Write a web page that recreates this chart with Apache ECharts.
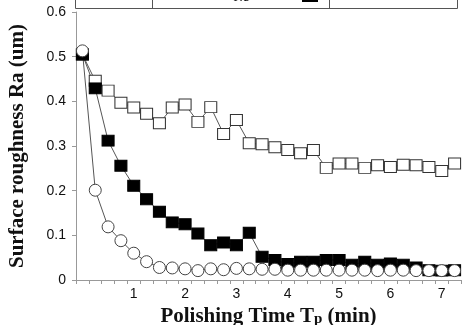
<!DOCTYPE html>
<html><head><meta charset="utf-8">
<script src="https://cdn.jsdelivr.net/npm/echarts@6/dist/echarts.min.js"></script>
<style>html,body{margin:0;padding:0;background:#fff}#c{width:463px;height:325px}</style>
</head><body><div id="c"></div>
<script>
var times = ['0','0.25','0.5','0.75','1','1.25','1.5','1.75','2','2.25','2.5','2.75','3','3.25','3.5','3.75','4','4.25','4.5','4.75','5','5.25','5.5','5.75','6','6.25','6.5','6.75','7','7.25'];
var openSquares = [0.505,0.446,0.424,0.397,0.386,0.372,0.351,0.386,0.393,0.354,0.387,0.327,0.358,0.306,0.304,0.297,0.291,0.284,0.291,0.251,0.261,0.261,0.251,0.257,0.253,0.258,0.257,0.253,0.244,0.261];
var filledSquares = [0.505,0.429,0.312,0.256,0.211,0.181,0.153,0.129,0.125,0.104,0.078,0.084,0.078,0.106,0.052,0.045,0.036,0.041,0.041,0.045,0.045,0.034,0.041,0.034,0.037,0.034,0.028,0.022,0.021,0.022];
var openCircles = [0.513,0.201,0.119,0.088,0.060,0.041,0.028,0.027,0.025,0.021,0.025,0.023,0.026,0.025,0.024,0.024,0.022,0.022,0.022,0.022,0.022,0.022,0.022,0.021,0.022,0.022,0.021,0.021,0.021,0.021];
var yTicks = ['0','0.1','0.2','0.3','0.4','0.5','0.6'];

var chart = echarts.init(document.getElementById('c'));
var lineStyle = {color:'#555', width:1};
chart.setOption({
  animation:false,
  grid:{left:76, right:2, top:12, bottom:45, containLabel:false, outerBoundsMode:'none'},
  xAxis:{
    type:'category', data:times, boundaryGap:true,
    axisLine:{lineStyle:{color:'#999', width:1}},
    axisTick:{show:true, interval:0, length:4, inside:false, lineStyle:{color:'#999'}},
    axisLabel:{interval:function(i){return i>0 && i%4===0;}, color:'#111', fontFamily:'Liberation Sans', fontSize:14, margin:7},
    name:'{a|Polishing Time T}{b|p}{a| (min)}', nameLocation:'middle', nameGap:22,
    nameTextStyle:{rich:{a:{fontFamily:'Liberation Serif', fontWeight:'bold', fontSize:21, color:'#111'}, b:{fontFamily:'Liberation Serif', fontWeight:'bold', fontSize:15, color:'#111', padding:[6,0,0,0]}}}
  },
  yAxis:{
    type:'value', min:0, max:0.6, interval:0.1,
    splitLine:{show:false},
    axisLine:{show:true, lineStyle:{color:'#999', width:1}},
    axisTick:{show:true, length:4, lineStyle:{color:'#999'}},
    axisLabel:{color:'#111', fontFamily:'Liberation Sans', fontSize:14, margin:10,
      formatter:function(v){return yTicks[Math.round(v*10)];}},
    name:'Surface roughness Ra (um)', nameLocation:'middle', nameGap:48,
    nameTextStyle:{fontFamily:'Liberation Serif', fontWeight:'bold', fontSize:21, color:'#111'}
  },
  graphic:[
    {type:'rect', shape:{x:75.5, y:-20, width:382, height:28.5}, style:{fill:'none', stroke:'#555', lineWidth:1}},
    {type:'line', shape:{x1:152.5, y1:-20, x2:152.5, y2:8.5}, style:{stroke:'#555', lineWidth:1}},
    {type:'line', shape:{x1:329.5, y1:-20, x2:329.5, y2:8.5}, style:{stroke:'#555', lineWidth:1}},
    {type:'text', x:241, y:4, style:{text:'0.8', fill:'#111', font:'13px Liberation Sans', textAlign:'center', textVerticalAlign:'bottom'}},
    {type:'rect', shape:{x:302, y:-12, width:16, height:14}, style:{fill:'#000'}},
    {type:'text', x:393, y:0, style:{text:'Dry', fill:'#111', font:'13px Liberation Sans', textAlign:'center', textVerticalAlign:'bottom'}}
  ],
  series:[
    {type:'line', data:openSquares, symbol:'rect', symbolSize:[12,11], showAllSymbol:true,
     lineStyle:lineStyle, itemStyle:{color:'#fff', borderColor:'#333', borderWidth:1}},
    {type:'line', data:filledSquares, symbol:'rect', symbolSize:[12,11], showAllSymbol:true,
     lineStyle:lineStyle, itemStyle:{color:'#000', borderColor:'#000', borderWidth:1}},
    {type:'line', data:openCircles, symbol:'circle', symbolSize:12, showAllSymbol:true,
     lineStyle:lineStyle, itemStyle:{color:'#fff', borderColor:'#444', borderWidth:1}}
  ]
});
</script></body></html>
